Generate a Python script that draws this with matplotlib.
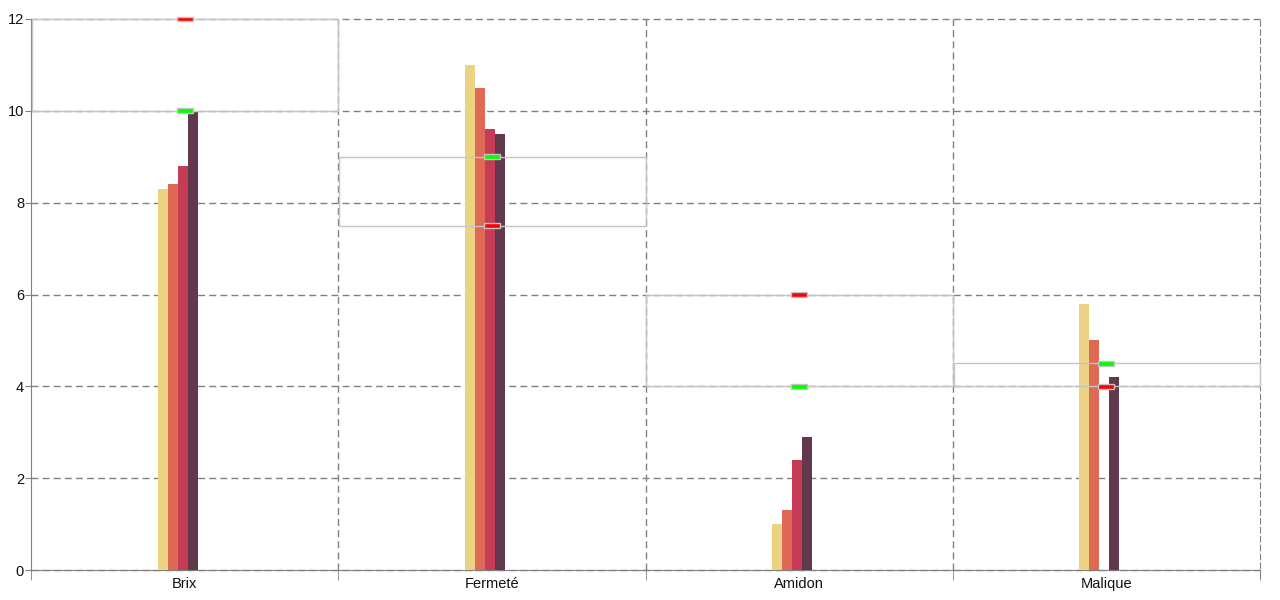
import matplotlib
matplotlib.use('Agg')
import numpy as np
import matplotlib.pyplot as plt
from matplotlib.patches import Rectangle

plt.rcParams['font.family'] = ['Liberation Sans', 'DejaVu Sans']

categories = ['Brix', 'Fermeté', 'Amidon', 'Malique']
series_1 = [8.3, 11.0, 1.0, 5.8]
series_2 = [8.4, 10.5, 1.3, 5.0]
series_3 = [8.8, 9.6, 2.4, 0.0]
series_4 = [10.0, 9.5, 2.9, 4.2]
series_5 = [0.0, 0.0, 0.0, 0.0]
green_marks = [10.0, 9.0, 4.0, 4.5]
red_marks = [12.0, 7.5, 6.0, 4.0]

colors = ['#ecd384', '#de6a56', '#c63c57', '#62384d', '#4e8c8c']

fig = plt.figure(figsize=(12.8, 6), dpi=100)
ax = fig.add_axes([31 / 1280, 30 / 600, 1229 / 1280, 551 / 600])

x = np.arange(len(categories))
w = 10 / 307.25
all_series = [series_1, series_2, series_3, series_4, series_5]
for i, (vals, c) in enumerate(zip(all_series, colors)):
    ax.bar(x + (i - 2) * w - 2 / 307.25, vals, width=w, color=c, zorder=3)

# threshold boxes and markers
mw, mh = 16 / 307.25, 5 / 45.92
for xi, g, r in zip(x, green_marks, red_marks):
    lo, hi = min(g, r), max(g, r)
    ax.add_patch(Rectangle((xi - 0.497, lo), 0.997, hi - lo, fill=False,
                           edgecolor='#c4c4c4', lw=1, zorder=4, clip_on=False))
    ax.add_patch(Rectangle((xi - mw / 2, g - mh / 2), mw, mh, facecolor='#00ff00',
                           edgecolor='#c4c4c4', lw=1, zorder=5, clip_on=False))
    ax.add_patch(Rectangle((xi - mw / 2, r - mh / 2), mw, mh, facecolor='#ff0000',
                           edgecolor='#c4c4c4', lw=1, zorder=5, clip_on=False))

ax.set_xlim(-0.5, 3.5)
ax.set_ylim(0, 12)
ax.set_yticks(range(0, 13, 2))
ax.yaxis.grid(True, color='#808080', linestyle=(0, (5, 3)), lw=1, zorder=1)
for line in ax.get_ygridlines():
    line.set_clip_on(False)
for b in [0.5, 1.5, 2.5]:
    ax.axvline(b, color='#808080', linestyle=(0, (5, 3)), lw=1, zorder=1)

ax.set_xticks(x)
ax.set_xticklabels(categories)
ax.set_xticks(np.arange(-0.5, 4.0, 1.0), minor=True)
ax.tick_params(axis='x', which='major', length=0, pad=5, labelsize=10.5, labelcolor='#111111')
ax.tick_params(axis='x', which='minor', length=7, color='#808080')
ax.tick_params(axis='y', length=4, color='#808080', labelsize=10.5, labelcolor='#111111', pad=1)

ax.spines['top'].set_visible(False)
ax.spines['left'].set_color('#808080')
ax.spines['bottom'].set_color('#808080')
ax.spines['right'].set_color('#808080')
ax.spines['right'].set_linestyle((0, (5, 3)))
ax.spines['right'].set_bounds(-0.15, 12)

fig.savefig('out.png', dpi=100)
